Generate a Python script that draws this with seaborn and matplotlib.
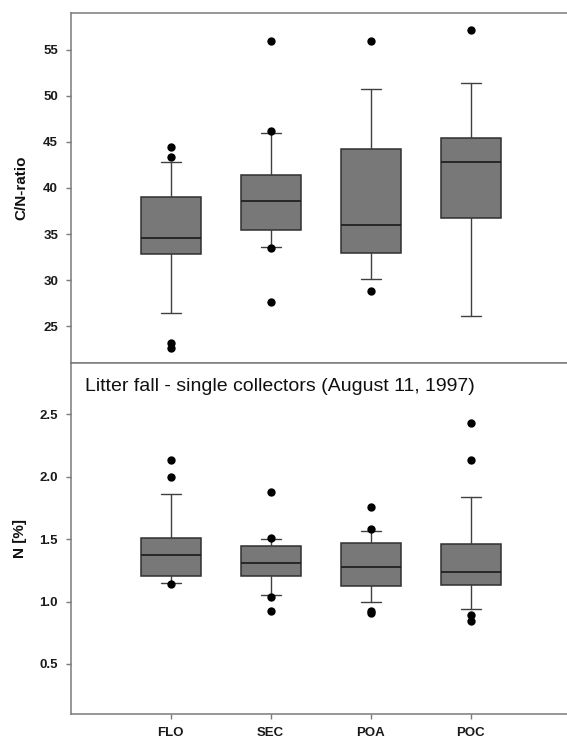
import matplotlib
matplotlib.use("Agg")
import matplotlib.pyplot as plt
import seaborn as sns
import pandas as pd

# ---------------- data ----------------
sites = ["FLO", "SEC", "POA", "POC"]

# C/N ratio (top panel)
cn_whislo = [26.4, 33.6, 30.1, 26.1]
cn_q1 = [32.85, 35.45, 32.9, 36.75]
cn_med = [34.55, 38.55, 36.0, 42.8]
cn_q3 = [39.05, 41.45, 44.2, 45.45]
cn_whishi = [42.8, 46.0, 50.7, 51.35]
cn_outliers = [[44.4, 43.4, 23.2, 22.6],
               [55.9, 46.2, 33.45, 27.6],
               [55.9, 28.8],
               [57.1]]

# N [%] (bottom panel)
n_whislo = [1.148, 1.052, 0.996, 0.94]
n_q1 = [1.204, 1.204, 1.122, 1.13]
n_med = [1.37, 1.31, 1.278, 1.24]
n_q3 = [1.506, 1.446, 1.468, 1.46]
n_whishi = [1.86, 1.50, 1.562, 1.836]
n_outliers = [[2.137, 2.0, 1.14],
              [1.876, 1.51, 1.033, 0.924],
              [1.756, 1.58, 0.926, 0.905],
              [2.43, 2.137, 0.89, 0.844]]

cn_ticks = [25, 30, 35, 40, 45, 50, 55]
n_ticks = [0.5, 1.0, 1.5, 2.0, 2.5]
title = "Litter fall - single collectors (August 11, 1997)"

# ---------------- style ----------------
sns.set_theme(style="white")
plt.rcParams["font.family"] = ["Liberation Sans", "DejaVu Sans"]

W, H = 567, 740
fig = plt.figure(figsize=(W / 100, H / 100), dpi=100)

left_px, right_px = 70.7, 570.7
top_px, mid_px, bot_px = 13.0, 362.5, 714.0
ax1 = fig.add_axes([left_px / W, 1 - mid_px / H, (right_px - left_px) / W, (mid_px - top_px) / H])
ax2 = fig.add_axes([left_px / W, 1 - bot_px / H, (right_px - left_px) / W, (bot_px - mid_px) / H])

spine_col = "#7a7a7a"
box_face = "#787878"
edge_col = "#303030"


def draw(ax, whislo, q1, med, q3, whishi, outliers):
    stats = []
    for i in range(len(sites)):
        stats.append(dict(label=sites[i], whislo=whislo[i], q1=q1[i], med=med[i],
                          q3=q3[i], whishi=whishi[i], fliers=[]))
    ax.bxp(stats, positions=range(len(sites)), widths=0.6, capwidths=0.2,
           patch_artist=True, showfliers=False,
           boxprops=dict(facecolor=box_face, edgecolor=edge_col, linewidth=1.1),
           medianprops=dict(color="#1a1a1a", linewidth=1.2),
           whiskerprops=dict(color="#404040", linewidth=1.0),
           capprops=dict(color="#404040", linewidth=1.0))
    xs, ys = [], []
    for i, vals in enumerate(outliers):
        for v in vals:
            xs.append(sites[i])
            ys.append(v)
    df = pd.DataFrame({"site": xs, "val": ys})
    sns.stripplot(data=df, x="site", y="val", order=sites, jitter=False,
                  color="black", size=6, linewidth=0, ax=ax, zorder=5)
    ax.set_xlim(-1, 4)
    ax.set_xlabel("")
    ax.set_ylabel("")
    for s in ax.spines.values():
        s.set_color(spine_col)
        s.set_linewidth(1.1)
    ax.spines["right"].set_visible(False)
    ax.tick_params(axis="y", direction="out", length=3.6, width=1, color=spine_col,
                   left=True, pad=5.5, labelsize=9.5)


draw(ax1, cn_whislo, cn_q1, cn_med, cn_q3, cn_whishi, cn_outliers)
ax1.set_ylim(21.07, 58.98)
ax1.set_yticks(cn_ticks)
ax1.set_yticklabels([str(t) for t in cn_ticks], fontweight="bold", color="#1a1a1a")
ax1.tick_params(axis="x", bottom=False, labelbottom=False)

draw(ax2, n_whislo, n_q1, n_med, n_q3, n_whishi, n_outliers)
ax2.set_ylim(0.0995, 2.915)
ax2.set_yticks(n_ticks)
ax2.set_yticklabels([f"{t:.1f}" for t in n_ticks], fontweight="bold", color="#1a1a1a")
ax2.set_xticks(range(len(sites)))
ax2.set_xticklabels(sites, fontweight="bold", color="#1a1a1a", fontsize=9.5)
ax2.tick_params(axis="x", direction="out", length=3.6, width=1, color=spine_col, bottom=True, pad=6)

ax2.text((85 - left_px) / (right_px - left_px), (bot_px - 390.7) / (bot_px - mid_px), title,
         transform=ax2.transAxes, ha="left", va="baseline", fontsize=14, color="#111111")

fig.text(21 / W, 1 - ((top_px + mid_px) / 2) / H, "C/N-ratio", rotation=90,
         ha="center", va="center", fontsize=11, fontweight="bold", color="#111111")
fig.text(20 / W, 1 - ((mid_px + bot_px) / 2) / H, "N [%]", rotation=90,
         ha="center", va="center", fontsize=11, fontweight="bold", color="#111111")

fig.savefig("out.png", dpi=100)
